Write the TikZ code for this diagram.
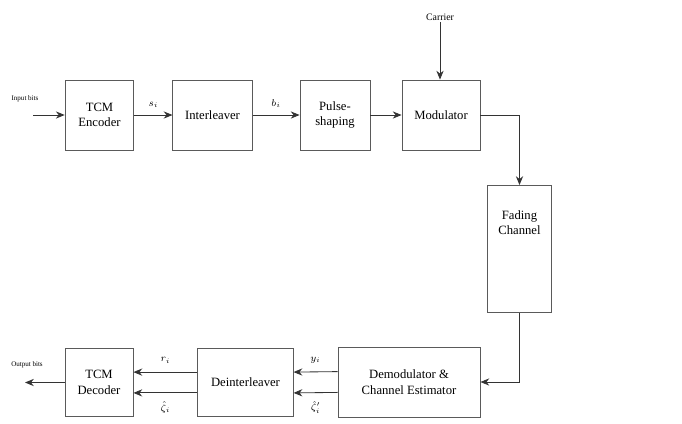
\documentclass[tikz,border=0pt]{standalone}
\usepackage{fontspec}
\setmainfont{Liberation Serif}
\usetikzlibrary{arrows.meta,positioning}
\definecolor{boxgray}{RGB}{90,90,90}
\tikzset{
  blk/.style={draw=boxgray, line width=0.6pt, fill=white, align=center, font=\small, inner sep=1pt},
  sig/.style={-{Stealth[length=2.2mm,width=1.8mm]}, line width=0.6pt, draw=black!80},
  lbl/.style={font=\scriptsize, inner sep=1pt}
}
\begin{document}
\begin{tikzpicture}[x=0.025cm, y=-0.025cm]
  \useasboundingbox (0,0) rectangle (682,423);

  % Transmitter chain
  \node[blk, minimum width=1.72cm, minimum height=1.75cm] (enc) at (99.5,115) {TCM\\Encoder};
  \node[blk, minimum width=1.98cm, minimum height=1.75cm] (intl) at (212.5,115) {Interleaver};
  \node[blk, minimum width=1.75cm, minimum height=1.75cm] (pulse) at (335,115) {Pulse-\\shaping};
  \node[blk, minimum width=1.95cm, minimum height=1.75cm] (mod) at (441,115) {Modulator};
  \node[lbl] (carrier) at (440,17) {Carrier};
  \node[lbl, font=\tiny] (inbits) at (25,99) {Input bits};
  \coordinate (inp) at (33,115);

  % Channel
  \node[blk, minimum width=1.58cm, minimum height=3.18cm, anchor=north] (chan) at (519.5,185) {\\Fading\\Channel\\[1.1cm]};

  % Receiver chain
  \node[blk, minimum width=3.55cm, minimum height=1.75cm] (demod) at (409,382) {Demodulator \&\\Channel Estimator};
  \node[blk, minimum width=2.38cm, minimum height=1.72cm] (deint) at (245.5,382.5) {Deinterleaver};
  \node[blk, minimum width=1.70cm, minimum height=1.72cm] (dec) at (99,382.5) {TCM\\Decoder};
  \node[lbl, font=\tiny] (outbits) at (27,365) {Output bits};
  \coordinate (outp) at (25,382.5);

  % forward arrows
  \draw[sig] (inp) -- (enc);
  \draw[sig] (enc) -- node[lbl, above=4pt] (si) {$s_i$} (intl);
  \draw[sig] (intl) -- node[lbl, above=4pt] (bi) {$b_i$} (pulse);
  \draw[sig] (pulse) -- (mod);
  \draw[sig] (carrier) -- (mod.north -| carrier);
  \draw[sig] (mod.east) -| (chan.north);
  \draw[sig] (chan.south) |- (demod.east);

  % receiver arrows
  \draw[sig] ([yshift=0.26cm]demod.west) -- node[lbl, above=5pt] (yi) {$y_i$} ([yshift=0.26cm]deint.east);
  \draw[sig] ([yshift=-0.26cm]demod.west) -- node[lbl, below=5pt] (zpi) {$\hat{\zeta}'_i$} ([yshift=-0.26cm]deint.east);
  \draw[sig] ([yshift=0.26cm]deint.west) -- node[lbl, above=5pt] (ri) {$r_i$} ([yshift=0.26cm]dec.east);
  \draw[sig] ([yshift=-0.26cm]deint.west) -- node[lbl, below=5pt] (zi) {$\hat{\zeta}_i$} ([yshift=-0.26cm]dec.east);
  \draw[sig] (dec) -- (outp);
\end{tikzpicture}
\end{document}
